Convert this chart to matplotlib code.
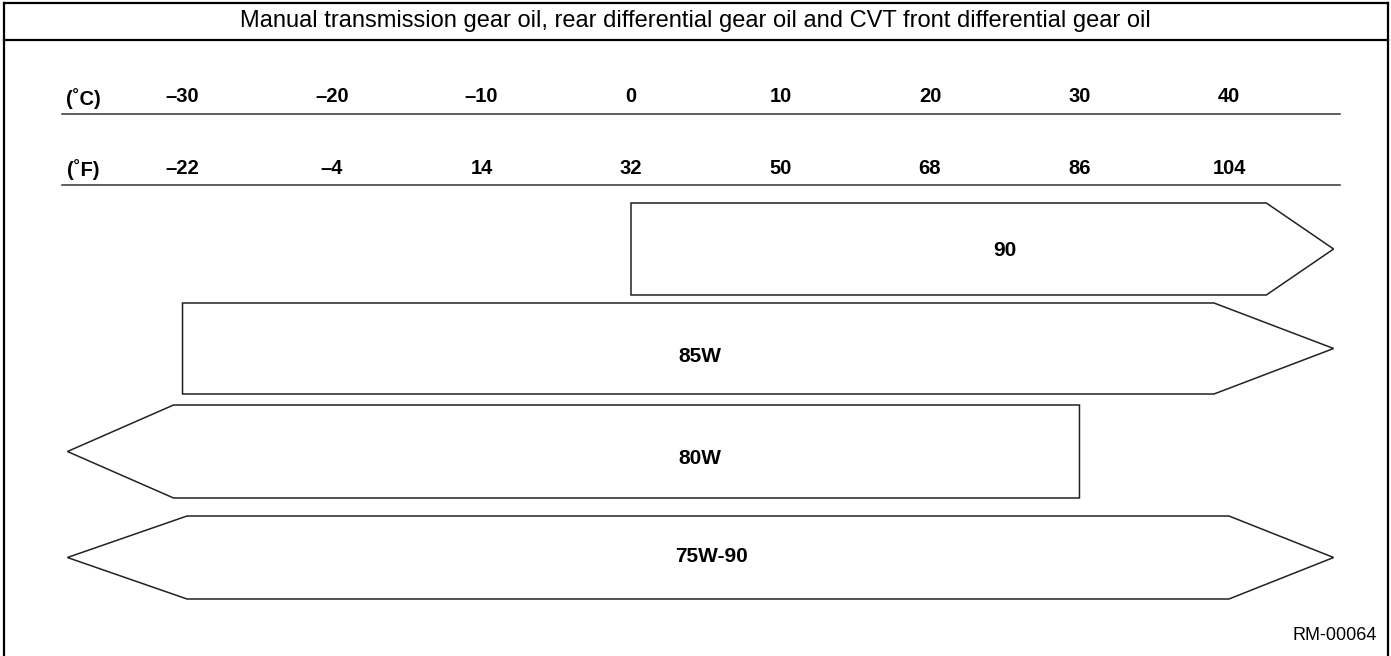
import matplotlib
matplotlib.use("Agg")
import matplotlib.pyplot as plt
from matplotlib.patches import Polygon

plt.rcParams['font.family'] = ['Liberation Sans', 'DejaVu Sans']

# temperature scale in deg C and the matching deg F labels
temp_c = [-30, -20, -10, 0, 10, 20, 30, 40]
temp_f = [-22, -4, 14, 32, 50, 68, 86, 104]

# oil grades and their range in deg C (None = open ended, drawn as an arrow)
grades = ["90", "85W", "80W", "75W-90"]
range_lo = [0, -30, None, None]
range_hi = [None, None, 30, None]

title = "Manual transmission gear oil, rear differential gear oil and CVT front differential gear oil"
code = "RM-00064"

# layout: x in deg C, y in pixels from the top
bar_top = [203, 303, 405, 516]
bar_bot = [295, 394, 498, 599]
label_x = [25.0, 4.6, 4.6, 5.4]
label_y = [250, 356, 458, 557]
head_lo = [None, None, 7.1, 8.0]
head_hi = [4.5, 8.0, None, 7.0]
tip_lo, tip_hi = -37.7, 47.0


def dash(v):
    return str(v).replace("-", "\u2013")


fig = plt.figure(figsize=(13.91, 6.56), dpi=100)
ax = fig.add_axes([0, 0, 1, 1])
ax.set_xlim(-42.21, 50.84)
ax.set_ylim(656, 0)
ax.axis('off')

# frame and header row
yt = ax.get_yaxis_transform()
ax.plot([0.003, 0.998], [3, 3], color='black', lw=1.6, transform=yt)
ax.plot([0.003, 0.998], [40, 40], color='black', lw=1.6, transform=yt)
ax.plot([0.003, 0.003], [3, 656], color='black', lw=1.6, transform=yt)
ax.plot([0.998, 0.998], [3, 656], color='black', lw=1.6, transform=yt)
ax.text(0.4996, 21, title, transform=yt, ha='center', va='center', fontsize=17)

# temperature scales
ax.plot([-38.06, 47.42], [114, 114], color='#333333', lw=1.1)
ax.plot([-38.06, 47.42], [185, 185], color='#333333', lw=1.1)
ax.text(-36.65, 99, "(\u02daC)", ha='center', va='center', fontsize=14.5, fontweight='bold')
ax.text(-36.65, 170, "(\u02daF)", ha='center', va='center', fontsize=14.5, fontweight='bold')
for c, f in zip(temp_c, temp_f):
    ax.text(c, 97, dash(c), ha='center', va='center', fontsize=14.5, fontweight='bold')
    ax.text(c, 169, dash(f), ha='center', va='center', fontsize=14.5, fontweight='bold')

# grade bars
for i, g in enumerate(grades):
    top, bot = bar_top[i], bar_bot[i]
    mid = (top + bot) / 2
    pts = []
    if range_lo[i] is not None:
        pts += [(range_lo[i], bot), (range_lo[i], top)]
    else:
        s = tip_lo + head_lo[i]
        pts += [(s, bot), (tip_lo, mid), (s, top)]
    if range_hi[i] is not None:
        pts += [(range_hi[i], top), (range_hi[i], bot)]
    else:
        s = tip_hi - head_hi[i]
        pts += [(s, top), (tip_hi, mid), (s, bot)]
    ax.add_patch(Polygon(pts, closed=True, facecolor='white', edgecolor='#222222', lw=1.1))
    ax.text(label_x[i], label_y[i], g, ha='center', va='center', fontsize=15, fontweight='bold')

ax.text(0.990, 636, code, transform=yt, ha='right', va='center', fontsize=13)

fig.savefig("out.png", dpi=100)
